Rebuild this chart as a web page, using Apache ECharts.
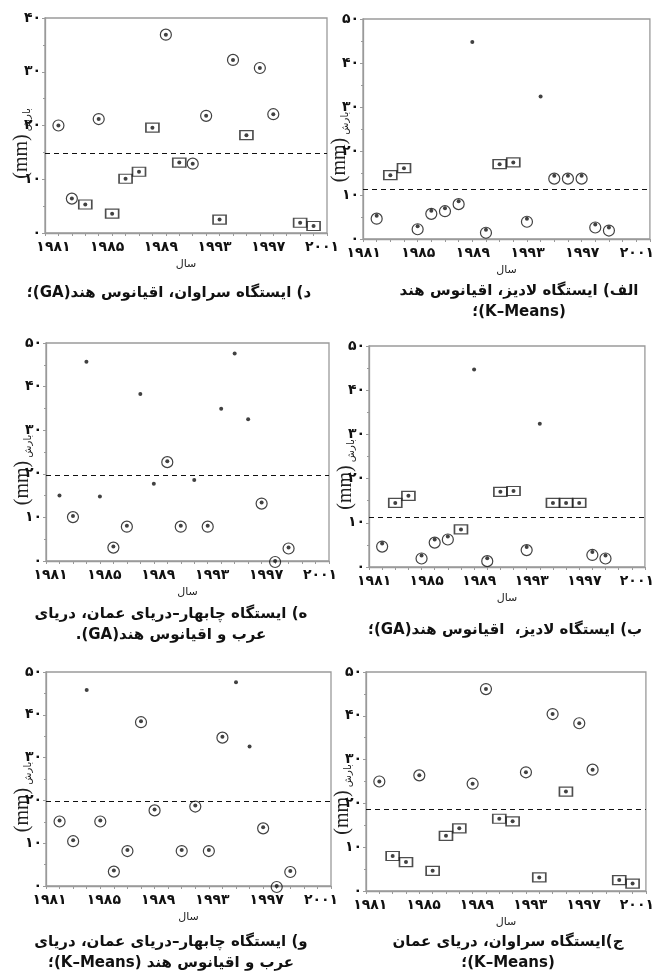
<!DOCTYPE html>
<html lang="fa">
<head>
    <meta charset="utf-8" />
    <title>بارش - خوشه‌بندی</title>
    <script src="https://cdn.jsdelivr.net/npm/echarts@6/dist/echarts.min.js"></script>
    <style>
        html, body { margin: 0; padding: 0; background: #fff; }
        #main { width: 657px; height: 973px; }
    </style>
</head>
<body>
<div id="main"></div>
<script type="text/javascript">
    // years on the x axis, labels every 4 years
    const xLabelYears = [1981, 1985, 1989, 1993, 1997, 2001]
    const xTickYears = [1980, 1981, 1982, 1983, 1984, 1985, 1986, 1987, 1988, 1989, 1990,
        1991, 1992, 1993, 1994, 1995, 1996, 1997, 1998, 1999, 2000, 2001]

    // Saravan station (d = GA, j = K-Means)
    const yearsSaravan = [1981, 1982, 1983, 1984, 1985, 1986, 1987, 1988, 1989, 1990,
        1991, 1992, 1993, 1994, 1995, 1996, 1997, 1999, 2000]
    const rainSaravanGA = [20.0, 6.4, 5.3, 21.2, 3.6, 10.1, 11.4, 19.6, 36.9, 13.1,
        12.9, 21.8, 2.5, 32.2, 18.2, 30.7, 22.1, 1.9, 1.3]
    const markSaravanGA = ['c', 'c', 's', 'c', 's', 's', 's', 's', 'c', 's',
        'c', 'c', 's', 'c', 's', 'c', 'c', 's', 's']
    const rainSaravanKM = [25.0, 8.0, 6.6, 26.4, 4.6, 12.6, 14.3, 24.5, 46.1, 16.5,
        15.9, 27.1, 3.1, 40.4, 22.7, 38.3, 27.7, 2.5, 1.7]
    const markSaravanKM = ['c', 's', 's', 'c', 's', 's', 's', 'c', 'c', 's',
        's', 'c', 's', 'c', 's', 'c', 'c', 's', 's']

    // Ladiz station (alef = K-Means, b = GA)
    const yearsLadiz = [1981, 1982, 1983, 1984, 1985, 1986, 1987, 1988, 1989, 1990,
        1991, 1992, 1993, 1994, 1995, 1996, 1997, 1998]
    const rainLadizKM = [5.3, 14.5, 16.1, 2.9, 6.4, 7.0, 8.6, 44.8, 2.1, 17.0,
        17.4, 4.6, 32.4, 14.4, 14.4, 14.4, 3.3, 2.6]
    const markLadizKM = ['c', 's', 's', 'c', 'c', 'c', 'c', 'd', 'c', 's',
        's', 'c', 'd', 'c', 'c', 'c', 'c', 'c']
    const rainLadizGA = [5.3, 14.5, 16.1, 2.6, 6.2, 6.9, 8.5, 44.7, 2.0, 17.0,
        17.2, 4.5, 32.4, 14.5, 14.5, 14.5, 3.4, 2.6]
    const markLadizGA = ['c', 's', 's', 'c', 'c', 'c', 's', 'd', 'c', 's',
        's', 'c', 'd', 's', 's', 's', 'c', 'c']

    // Chabahar station (h = GA, v = K-Means)
    const yearsChabaharGA = [1981, 1982, 1983, 1984, 1985, 1986, 1987, 1988, 1989, 1990,
        1991, 1992, 1993, 1994, 1995, 1996, 1997, 1998]
    const rainChabaharGA = [15.0, 10.3, 45.7, 14.8, 3.3, 8.1, 38.3, 17.7, 22.9, 8.1,
        18.6, 8.1, 34.9, 47.6, 32.5, 13.4, 0.0, 3.1]
    const markChabaharGA = ['d', 'c', 'd', 'd', 'c', 'c', 'd', 'd', 'c', 'c',
        'd', 'c', 'd', 'd', 'd', 'c', 'c', 'c']
    const yearsChabaharKM = [1981, 1982, 1983, 1984, 1985, 1986, 1987, 1988, 1990,
        1991, 1992, 1993, 1994, 1995, 1996, 1997, 1998]
    const rainChabaharKM = [15.3, 10.7, 45.8, 15.3, 3.6, 8.4, 38.5, 17.9, 8.4,
        18.8, 8.4, 34.9, 47.6, 32.6, 13.7, 0.0, 3.5]
    const markChabaharKM = ['c', 'c', 'd', 'c', 'c', 'c', 'c', 'c', 'c',
        'c', 'c', 'c', 'd', 'd', 'c', 'c', 'c']

    // dashed threshold lines
    const thresholds = [14.9, 11.3, 19.6, 11.3, 19.9, 18.7]

    const captions = [
        ['د) ایستگاه سراوان، اقیانوس هند(GA)؛'],
        ['الف) ایستگاه لادیز، اقیانوس هند', '(K–Means)؛'],
        ['ه) ایستگاه چابهار–دریای عمان، دریای', 'عرب و اقیانوس هند(GA).'],
        ['ب) ایستگاه لادیز،  اقیانوس هند(GA)؛'],
        ['و) ایستگاه چابهار–دریای عمان، دریای', 'عرب و اقیانوس هند (K–Means)؛'],
        ['ج)ایستگاه سراوان، دریای عمان', '(K–Means)؛']
    ]

    const faDigits = '۰۱۲۳۴۵۶۷۸۹'
    function toFa(v) {
        return String(v).replace(/\d/g, function (d) { return faDigits[d] })
    }
    // right-to-left embedding for each caption line
    function rtl(lines) {
        return lines.map(function (s) { return '\u202B' + s + '\u202C' }).join('\n')
    }

    // layout of the six panels
    let panels = [
        { years: yearsSaravan, rain: rainSaravanGA, mark: markSaravanGA, yMax: 40,
          left: 45, top: 18, width: 282, height: 215, shift: 5, ring: 0,
          capX: 164, capY: 278 },
        { years: yearsLadiz, rain: rainLadizKM, mark: markLadizKM, yMax: 50,
          left: 363, top: 19, width: 291, height: 220, shift: 13, ring: 3,
          capX: 514, capY: 276 },
        { years: yearsChabaharGA, rain: rainChabaharGA, mark: markChabaharGA, yMax: 50,
          left: 46, top: 343, width: 283, height: 218, shift: 9, ring: 1,
          capX: 166, capY: 599 },
        { years: yearsLadiz, rain: rainLadizGA, mark: markLadizGA, yMax: 50,
          left: 369, top: 346, width: 284, height: 221, shift: 8, ring: 3,
          capX: 500, capY: 615 },
        { years: yearsChabaharKM, rain: rainChabaharKM, mark: markChabaharKM, yMax: 50,
          left: 46, top: 672, width: 285, height: 214, shift: 10, ring: 1,
          capX: 166, capY: 927 },
        { years: yearsSaravan, rain: rainSaravanKM, mark: markSaravanKM, yMax: 50,
          left: 366, top: 672, width: 283, height: 219, shift: 9, ring: 0,
          capX: 503, capY: 927 }
    ]

    let grids = [], xAxes = [], yAxes = [], series = [], titles = []

    panels.forEach(function (p, i) {
        grids.push({
            left: p.left, top: p.top, width: p.width, height: p.height,
            show: true, borderColor: '#9a9a9a', borderWidth: 1.3
        })
        xAxes.push({
            type: 'value', gridIndex: i, min: 1980, max: 2001,
            name: 'سال', nameLocation: 'middle', nameGap: 26, nameMoveOverlap: false,
            nameTextStyle: { fontFamily: 'DejaVu Sans', fontSize: 11, color: '#222' },
            axisLine: { show: true, lineStyle: { color: '#9a9a9a', width: 1.3 } },
            axisTick: { show: true, length: 3, customValues: xTickYears, lineStyle: { color: '#9a9a9a' } },
            axisLabel: {
                customValues: xLabelYears, formatter: toFa, margin: 7,
                padding: [0, p.shift * 2, 0, 0],
                fontFamily: 'DejaVu Sans', fontWeight: 'bold', fontSize: 14, color: '#111'
            },
            splitLine: { show: false }
        })
        yAxes.push({
            type: 'value', gridIndex: i, min: 0, max: p.yMax, interval: 10,
            name: '{a|(mm)}{b| بارش}', nameLocation: 'middle', nameGap: 13, nameRotate: 90,
            nameMoveOverlap: false,
            nameTextStyle: {
                padding: [0, 36, 0, 0],
                rich: {
                    a: { fontFamily: 'Liberation Serif', fontSize: 20, color: '#222' },
                    b: { fontFamily: 'DejaVu Sans', fontSize: 10, color: '#222', verticalAlign: 'bottom' }
                }
            },
            axisLine: { show: true, lineStyle: { color: '#9a9a9a', width: 1.3 } },
            axisTick: { show: true, length: 3, lineStyle: { color: '#9a9a9a' } },
            minorTick: { show: true, splitNumber: 2, length: 2, lineStyle: { color: '#9a9a9a' } },
            axisLabel: {
                formatter: toFa, margin: 4,
                fontFamily: 'DejaVu Sans', fontWeight: 'bold', fontSize: 14, color: '#111'
            },
            splitLine: { show: false }
        })

        let pts = p.years.map(function (y, k) { return [y, p.rain[k], p.mark[k]] })

        series.push({
            type: 'scatter', xAxisIndex: i, yAxisIndex: i, silent: true,
            symbol: 'circle', symbolSize: 11, symbolOffset: [0, p.ring],
            itemStyle: { color: 'rgba(0,0,0,0)', borderColor: '#111', borderWidth: 1.2 },
            data: pts.filter(function (d) { return d[2] === 'c' }).map(function (d) { return [d[0], d[1]] })
        })
        series.push({
            type: 'scatter', xAxisIndex: i, yAxisIndex: i, silent: true,
            symbol: 'rect', symbolSize: [13, 9],
            itemStyle: { color: 'rgba(0,0,0,0)', borderColor: '#222', borderWidth: 1.4 },
            data: pts.filter(function (d) { return d[2] === 's' }).map(function (d) { return [d[0], d[1]] })
        })
        series.push({
            type: 'scatter', xAxisIndex: i, yAxisIndex: i, silent: true,
            symbol: 'circle', symbolSize: 4,
            itemStyle: { color: '#111' },
            data: pts.map(function (d) { return [d[0], d[1]] }),
            markLine: {
                silent: true, symbol: 'none', label: { show: false },
                lineStyle: { color: '#111', type: [5, 4], width: 1.2 },
                data: [{ yAxis: thresholds[i] }]
            }
        })

        titles.push({
            text: rtl(captions[i]), left: p.capX, top: p.capY, textAlign: 'center',
            textStyle: {
                fontFamily: 'DejaVu Sans', fontWeight: 'bold', fontSize: 15,
                lineHeight: 21, color: '#111'
            }
        })
    })

    let myChart = echarts.init(document.getElementById('main'), null, { renderer: 'canvas' })
    myChart.setOption({
        animation: false,
        backgroundColor: '#fff',
        title: titles,
        grid: grids,
        xAxis: xAxes,
        yAxis: yAxes,
        series: series
    })
</script>
</body>
</html>
